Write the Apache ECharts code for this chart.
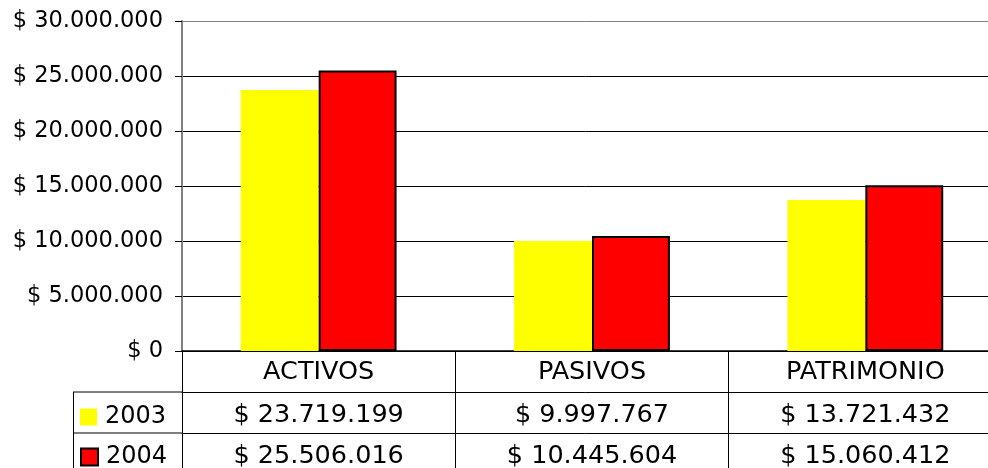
<!DOCTYPE html>
<html>
<head>
<meta charset="utf-8">
<script src="https://cdn.jsdelivr.net/npm/echarts@6/dist/echarts.min.js"></script>
<style>
  html, body { margin: 0; padding: 0; background: #fff; }
  #chart { width: 988px; height: 468px; }
</style>
</head>
<body>
<div id="chart"></div>
<script>
var categories = ['ACTIVOS', 'PASIVOS', 'PATRIMONIO']
var years = ['2003', '2004']
var values2003 = [23719199, 9997767, 13721432]
var values2004 = [25506016, 10445604, 15060412]
var yTicks = { min: 0, max: 30000000, interval: 5000000 }

var FONT = 'DejaVu Sans'
var FS = 22.5   // y axis labels
var TFS = 25.5  // table text
var LFS = 24    // legend text

function money(v) {
  return '$ ' + String(Math.round(v)).replace(/\B(?=(\d{3})+(?!\d))/g, '.')
}

function tableAxis(offset, values) {
  return {
    type: 'category',
    data: categories,
    position: 'bottom',
    offset: offset,
    axisLine: { show: true, lineStyle: { color: '#000', width: 1 } },
    axisTick: { show: false },
    axisLabel: {
      fontFamily: FONT, fontSize: TFS, color: '#000', margin: 10,
      formatter: function (v, i) { return money(values[i]) }
    }
  }
}

function legendItem(name, top) {
  return {
    orient: 'vertical',
    left: 80,
    top: top,
    padding: 0,
    icon: 'rect',
    itemWidth: 17,
    itemHeight: 17,
    data: [name],
    textStyle: { fontFamily: FONT, fontSize: LFS, color: '#000', padding: [0, 0, 0, 3] }
  }
}

var chart = echarts.init(document.getElementById('chart'))

chart.setOption({
  animation: false,
  textStyle: { fontFamily: FONT, color: '#000' },
  grid: { left: 182, width: 820, top: 21, height: 330, containLabel: false, outerBoundsMode: 'none' },
  legend: [legendItem(years[0], 405), legendItem(years[1], 445)],
  xAxis: [
    {
      type: 'category',
      data: categories,
      position: 'bottom',
      axisLine: { show: true, lineStyle: { color: '#000', width: 1.5 } },
      axisTick: { show: true, length: 125, lineStyle: { color: '#000', width: 1 } },
      axisLabel: { fontFamily: FONT, fontSize: TFS, color: '#000', margin: 8 }
    },
    tableAxis(41, values2003),
    tableAxis(82, values2004)
  ],
  yAxis: {
    type: 'value',
    min: yTicks.min,
    max: yTicks.max,
    interval: yTicks.interval,
    axisLine: { show: true, lineStyle: { color: '#808080', width: 2 } },
    axisTick: { show: true, length: 7, lineStyle: { color: '#000' } },
    axisLabel: { fontFamily: FONT, fontSize: FS, color: '#000', margin: 19, formatter: money },
    splitLine: {
      show: true,
      lineStyle: { color: ['#000', '#000', '#000', '#000', '#000', '#000', '#808080'], width: 1 }
    }
  },
  graphic: [
    { type: 'line', shape: { x1: 73, y1: 392, x2: 182, y2: 392 }, style: { stroke: '#000', lineWidth: 1 } },
    { type: 'line', shape: { x1: 73, y1: 433, x2: 182, y2: 433 }, style: { stroke: '#000', lineWidth: 1 } },
    { type: 'line', shape: { x1: 73.5, y1: 392, x2: 73.5, y2: 468 }, style: { stroke: '#000', lineWidth: 1 } }
  ],
  series: [
    {
      name: years[0],
      type: 'bar',
      data: values2003,
      barWidth: '28.5%',
      barGap: '0%',
      itemStyle: { color: '#FFFF00' }
    },
    {
      name: years[1],
      type: 'bar',
      data: values2004,
      barWidth: '28.5%',
      barGap: '0%',
      itemStyle: { color: '#FF0000', borderColor: '#000', borderWidth: 2 }
    }
  ]
})
</script>
</body>
</html>
